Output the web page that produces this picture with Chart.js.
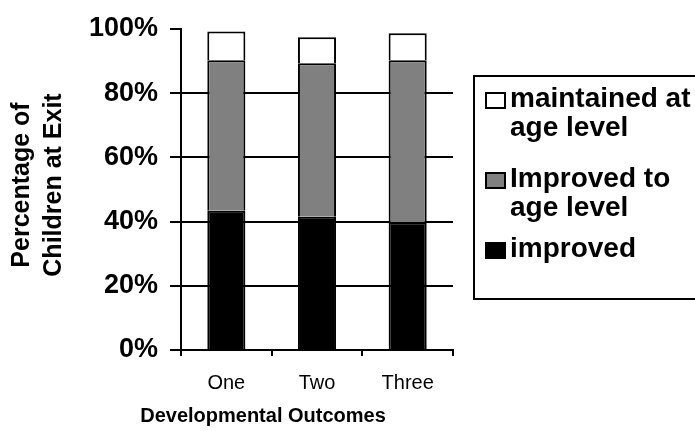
<!DOCTYPE html>
<html>
<head>
<meta charset="utf-8">
<script src="https://cdn.jsdelivr.net/npm/chart.js@4"></script>
<style>
  html, body { margin: 0; padding: 0; background: #fff; overflow: hidden; }
  #wrap { position: relative; width: 695px; height: 431px; }
  #legend {
    position: absolute; left: 473px; top: 75px; width: 240px; height: 221px;
    border: 2px solid #000; box-sizing: content-box;
    font-family: Arial, "Liberation Sans", sans-serif; font-weight: bold; font-size: 28px;
  }
  .item { position: absolute; left: 0; line-height: 29px; color: #000; }
  .item .key { position: absolute; left: 10px; top: 9px; width: 17px; height: 13px; border: 2px solid #000; }
  .item .txt { position: absolute; left: 35px; top: 0; white-space: nowrap; }
</style>
</head>
<body>
<div id="wrap">
  <canvas id="chart" width="695" height="431"></canvas>
  <div id="legend"></div>
</div>
<script>
// --- DATA ---
const categories = ['One', 'Two', 'Three'];
const improved = [43.4, 41.5, 39.8];
const improvedToAge = [46.9, 47.8, 50.5];
const maintained = [8.9, 8.1, 8.4];
const yTicks = [0, 20, 40, 60, 80, 100];

const seriesNames = ['improved', 'Improved to age level', 'maintained at age level'];
const legendLines = [['improved'], ['Improved to', 'age level'], ['maintained at', 'age level']];
const seriesColors = ['#000000', '#808080', '#ffffff'];

const FONT = 'Arial, "Liberation Sans", sans-serif';

// axis titles drawn by hand so they sit where the original had them
const axisTitles = {
  id: 'axisTitles',
  afterDraw(chart) {
    const c = chart.ctx;
    c.save();
    c.fillStyle = '#000';
    c.textAlign = 'center';
    c.textBaseline = 'middle';
    c.font = 'bold 20px ' + FONT;
    c.fillText('Developmental Outcomes', 263, 416);
    c.translate(38, 185);
    c.rotate(-Math.PI / 2);
    c.font = 'bold 25px ' + FONT;
    c.fillText('Percentage of', 0, -16);
    c.fillText('Children at Exit', 0, 16);
    c.restore();
  }
};

const values = [improved, improvedToAge, maintained];

new Chart(document.getElementById('chart'), {
  type: 'bar',
  data: {
    labels: categories,
    datasets: values.map((v, i) => ({
      label: seriesNames[i],
      data: v,
      backgroundColor: seriesColors[i],
      borderColor: '#000',
      borderWidth: 2,
      barPercentage: 0.42,
      categoryPercentage: 1
    }))
  },
  options: {
    responsive: false,
    animation: false,
    layout: { padding: { left: 0, top: 29, right: 242, bottom: 0 } },
    plugins: { legend: { display: false }, tooltip: { enabled: false } },
    scales: {
      x: {
        stacked: true,
        afterFit: s => { s.height = 81; },
        grid: { offset: true, drawOnChartArea: false, tickColor: '#000', tickLength: 6, lineWidth: 2 },
        border: { color: '#000', width: 2 },
        ticks: { color: '#000', padding: 15, font: { family: FONT, size: 20 } }
      },
      y: {
        stacked: true,
        min: 0,
        max: 100,
        afterFit: s => { s.width = 181; },
        afterBuildTicks: s => { s.ticks = yTicks.map(v => ({ value: v })); },
        grid: {
          color: ctx => (ctx.tick && ctx.tick.value === 100) ? 'rgba(0,0,0,0)' : '#000',
          tickColor: '#000', tickLength: 11, lineWidth: 2
        },
        border: { color: '#000', width: 2 },
        ticks: {
          color: '#000', padding: 12,
          font: { family: FONT, size: 27, weight: 'bold' },
          callback: v => v + '%'
        }
      }
    }
  },
  plugins: [axisTitles]
});

// legend, top item first like the original
const legend = document.getElementById('legend');
const tops = [6, 86, 156];
[2, 1, 0].forEach((si, k) => {
  const item = document.createElement('div');
  item.className = 'item';
  item.style.top = tops[k] + 'px';
  const key = document.createElement('div');
  key.className = 'key';
  key.style.background = seriesColors[si];
  const txt = document.createElement('div');
  txt.className = 'txt';
  txt.innerHTML = legendLines[si].join('<br>');
  item.appendChild(key);
  item.appendChild(txt);
  legend.appendChild(item);
});
</script>
</body>
</html>
